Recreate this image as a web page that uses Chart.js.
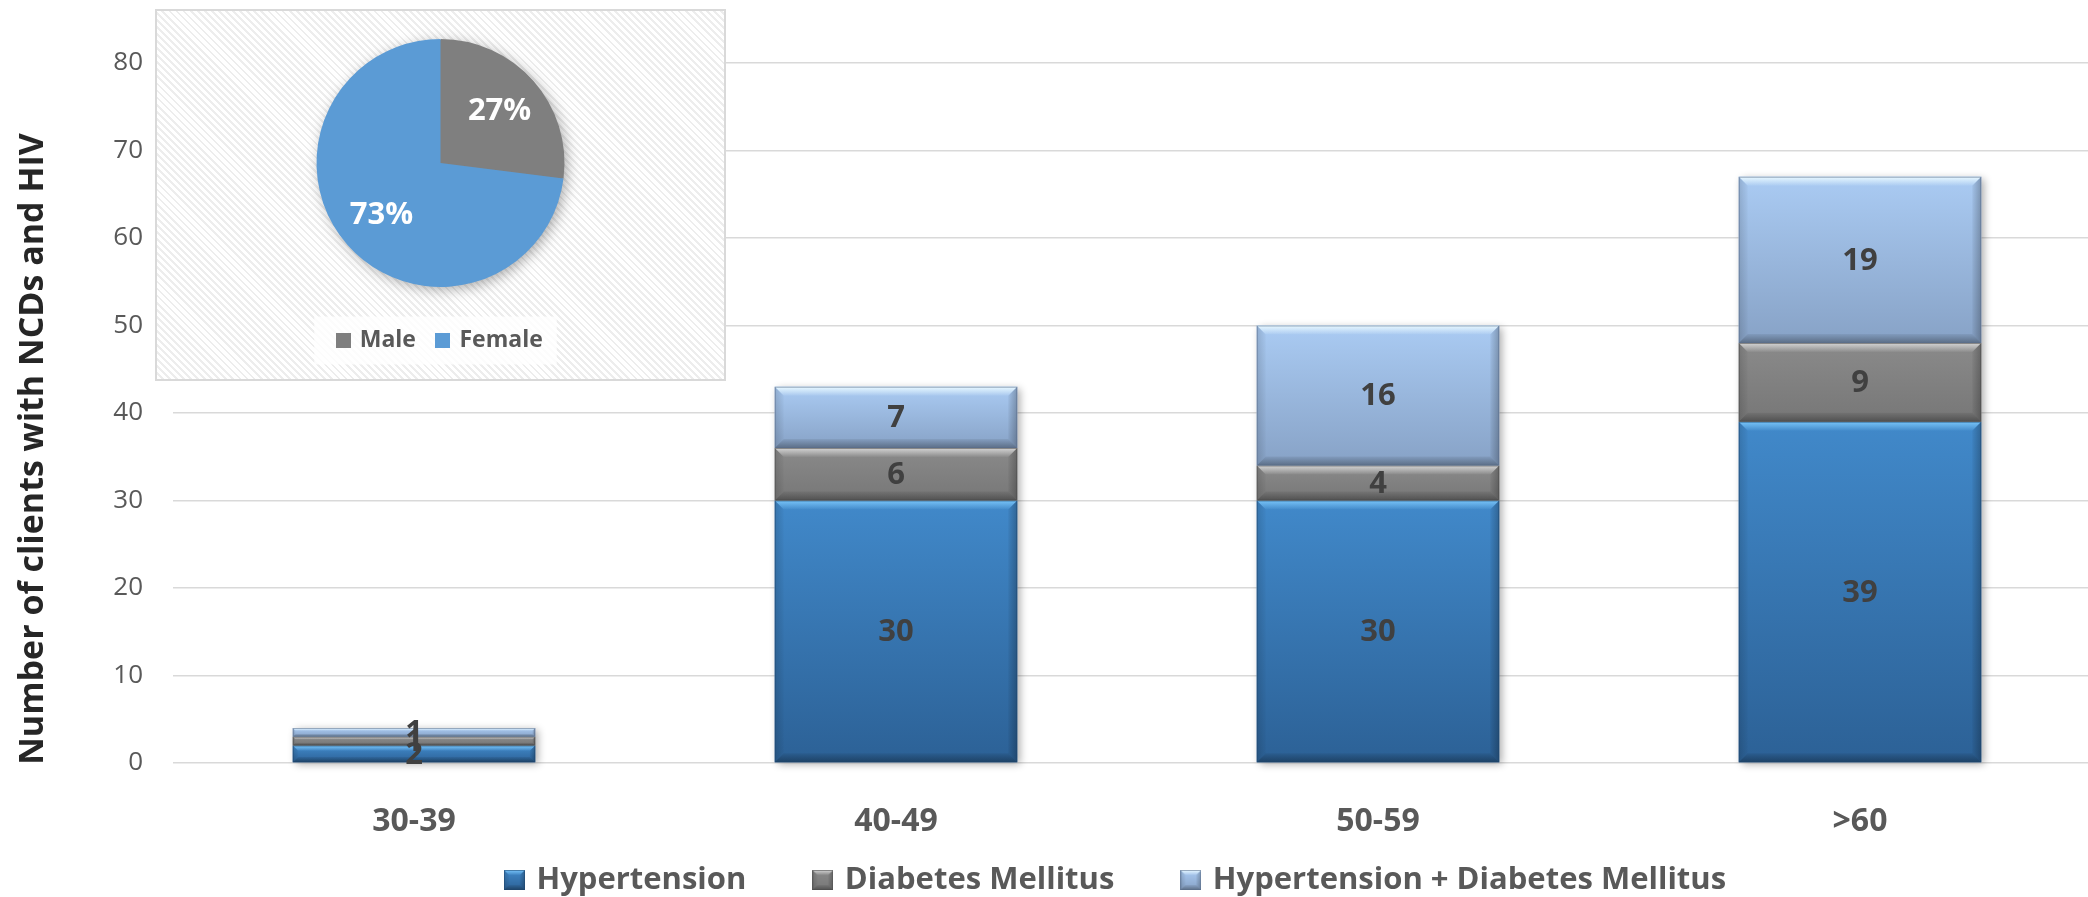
<!DOCTYPE html>
<html>
<head>
<meta charset="utf-8">
<title>Clients with NCDs and HIV by age group</title>
<script src="https://cdn.jsdelivr.net/npm/chart.js@4.4.1/dist/chart.umd.min.js"></script>
<style>
  html, body { margin: 0; padding: 0; background: #ffffff; overflow: hidden; width: 2088px; height: 897px; }
  #main { position: absolute; left: 0; top: 0; }
  #inset {
    position: absolute; left: 155px; top: 9px; width: 571px; height: 372px;
    box-sizing: border-box; border: 2px solid #d9d9d9;
    background: repeating-linear-gradient(45deg, #ffffff 0px, #ffffff 3px, #ededed 3px, #ededed 5px);
  }
  #pie { position: absolute; left: -2px; top: -2px; }
</style>
</head>
<body>
<canvas id="main" width="2110" height="950"></canvas>
<div id="inset"><canvas id="pie" width="571" height="372"></canvas></div>
<script>
// ---- data ----
const ageGroups = ['30-39', '40-49', '50-59', '>60'];
const hypertension = [2, 30, 30, 39];
const diabetesMellitus = [1, 6, 4, 9];
const hypertensionAndDiabetes = [1, 7, 16, 19];
const seriesNames = ['Hypertension', 'Diabetes Mellitus', 'Hypertension + Diabetes Mellitus'];
const yTicks = [0, 10, 20, 30, 40, 50, 60, 70, 80];
const yTitle = 'Number of clients with NCDs and HIV';
const sexLabels = ['Male', 'Female'];
const sexShares = [27, 73];

// ---- styling ----
const FONT = "'Open Sans', 'DejaVu Sans', sans-serif";
Chart.defaults.font.family = FONT;

const seriesStyle = [
  { base: '#3675b2', top: '#4189ca', bottom: '#2c6196', hi: '#78c4f8', edge: '#1f4770' },
  { base: '#808080', top: '#8a8a8a', bottom: '#777777', hi: '#d4d4d4', edge: '#4a4a4a' },
  { base: '#9bb9e0', top: '#aacbf3', bottom: '#87a2c6', hi: '#e8f8ff', edge: '#5a6e8a' }
];
const sexColors = ['#7f7f7f', '#5b9bd5'];

function rgba(hex, a) {
  const n = parseInt(hex.slice(1), 16);
  return `rgba(${(n >> 16) & 255},${(n >> 8) & 255},${n & 255},${a})`;
}

function poly(ctx, pts, fill) {
  ctx.beginPath();
  ctx.moveTo(pts[0][0], pts[0][1]);
  for (let i = 1; i < pts.length; i++) ctx.lineTo(pts[i][0], pts[i][1]);
  ctx.closePath();
  ctx.fillStyle = fill;
  ctx.fill();
}

// Beveled rectangle: body gradient plus lit top, shaded bottom and sides
function drawBevelRect(ctx, x0, y0, x1, y1, st, maxB) {
  const w = x1 - x0, h = y1 - y0;
  if (w <= 0 || h <= 0) return;
  const b = Math.min(maxB, h * 0.32, w * 0.3);
  let g = ctx.createLinearGradient(0, y0, 0, y1);
  g.addColorStop(0, st.top);
  g.addColorStop(1, st.bottom);
  ctx.fillStyle = g;
  ctx.fillRect(x0, y0, w, h);

  g = ctx.createLinearGradient(0, y0, 0, y0 + b);
  g.addColorStop(0, st.hi);
  g.addColorStop(1, rgba(st.hi, 0.05));
  poly(ctx, [[x0, y0], [x1, y0], [x1 - b, y0 + b], [x0 + b, y0 + b]], g);

  g = ctx.createLinearGradient(0, y1 - b, 0, y1);
  g.addColorStop(0, 'rgba(0,0,0,0.06)');
  g.addColorStop(1, 'rgba(0,0,0,0.32)');
  poly(ctx, [[x0, y1], [x1, y1], [x1 - b, y1 - b], [x0 + b, y1 - b]], g);

  g = ctx.createLinearGradient(x0, 0, x0 + b, 0);
  g.addColorStop(0, 'rgba(0,0,0,0.14)');
  g.addColorStop(1, 'rgba(0,0,0,0.02)');
  poly(ctx, [[x0, y0], [x0 + b, y0 + b], [x0 + b, y1 - b], [x0, y1]], g);

  g = ctx.createLinearGradient(x1 - b, 0, x1, 0);
  g.addColorStop(0, 'rgba(0,0,0,0.04)');
  g.addColorStop(1, 'rgba(0,0,0,0.26)');
  poly(ctx, [[x1, y0], [x1 - b, y0 + b], [x1 - b, y1 - b], [x1, y1]], g);

  ctx.strokeStyle = rgba(st.edge, 0.55);
  ctx.lineWidth = 1;
  ctx.strokeRect(x0 + 0.5, y0 + 0.5, w - 1, h - 1);
}

// Small beveled swatches for the bar legend
const legendIcons = seriesStyle.map(st => {
  const c = document.createElement('canvas');
  c.width = 21; c.height = 20;
  drawBevelRect(c.getContext('2d'), 0, 0, 21, 20, st, 5);
  return c;
});

// Flat square swatches for the pie legend
const sexIcons = sexColors.map(col => {
  const c = document.createElement('canvas');
  c.width = 15; c.height = 15;
  const cx = c.getContext('2d');
  cx.fillStyle = col;
  cx.fillRect(0, 0, 15, 15);
  return c;
});

// Bar finish: shadow behind each stack, beveled segments, centred value labels
const bevelBars = {
  id: 'bevelBars',
  afterDatasetsDraw(chart) {
    const ctx = chart.ctx;
    const metas = chart.getSortedVisibleDatasetMetas();
    ctx.save();
    ageGroups.forEach((_, i) => {
      let top = Infinity, bottom = -Infinity, left = 0, right = 0;
      metas.forEach(m => {
        const p = m.data[i].getProps(['x', 'y', 'base', 'width'], true);
        top = Math.min(top, p.y, p.base);
        bottom = Math.max(bottom, p.y, p.base);
        left = p.x - p.width / 2; right = p.x + p.width / 2;
      });
      ctx.save();
      ctx.shadowColor = 'rgba(0,0,0,0.33)';
      ctx.shadowBlur = 8;
      ctx.shadowOffsetX = 3;
      ctx.shadowOffsetY = 2;
      ctx.fillStyle = '#ffffff';
      ctx.fillRect(left, top, right - left, bottom - top);
      ctx.restore();
    });
    metas.forEach(m => {
      const st = seriesStyle[m.index];
      m.data.forEach(el => {
        const p = el.getProps(['x', 'y', 'base', 'width'], true);
        const y0 = Math.min(p.y, p.base), y1 = Math.max(p.y, p.base);
        drawBevelRect(ctx, p.x - p.width / 2, y0, p.x + p.width / 2, y1, st, 9);
      });
    });
    ctx.font = `bold 31px ${FONT}`;
    ctx.fillStyle = '#404040';
    ctx.textAlign = 'center';
    ctx.textBaseline = 'middle';
    metas.forEach(m => {
      const values = chart.data.datasets[m.index].data;
      m.data.forEach((el, i) => {
        const p = el.getProps(['x', 'y', 'base'], true);
        ctx.fillText(String(values[i]), p.x, (p.y + p.base) / 2 + 1);
      });
    });
    ctx.restore();
  }
};

// Vertical axis title, placed beside the plot
const axisTitle = {
  id: 'axisTitle',
  afterDraw(chart) {
    const ctx = chart.ctx;
    ctx.save();
    ctx.translate(33, 449);
    ctx.rotate(-Math.PI / 2);
    ctx.font = `bold 34px ${FONT}`;
    ctx.fillStyle = '#262626';
    ctx.textAlign = 'center';
    ctx.textBaseline = 'middle';
    ctx.fillText(yTitle, 0, 0);
    ctx.restore();
  }
};

// Legend placement under the category labels
const legendPlacement = {
  id: 'legendPlacement',
  afterLayout(chart) {
    const lg = chart.legend;
    const dx = 1117 - (lg.left + lg.right) / 2;
    lg.left += dx; lg.right += dx;
    const dy = 880 - (lg.top + lg.options.labels.padding + 15.5);
    lg.top += dy; lg.bottom += dy;
  }
};

new Chart(document.getElementById('main'), {
  type: 'bar',
  data: {
    labels: ageGroups,
    datasets: [
      { label: seriesNames[0], data: hypertension, backgroundColor: seriesStyle[0].base },
      { label: seriesNames[1], data: diabetesMellitus, backgroundColor: seriesStyle[1].base },
      { label: seriesNames[2], data: hypertensionAndDiabetes, backgroundColor: seriesStyle[2].base }
    ]
  },
  options: {
    responsive: false,
    animation: false,
    layout: { padding: { top: 63, left: 0, right: 9, bottom: 5 } },
    datasets: { bar: { categoryPercentage: 0.503, barPercentage: 1.0, borderWidth: 0 } },
    scales: {
      x: {
        stacked: true,
        grid: { display: false },
        border: { display: false },
        ticks: { color: '#595959', font: { size: 32, weight: 'bold' }, padding: 32 },
        afterFit(s) { s.height = 71; }
      },
      y: {
        stacked: true,
        min: 0, max: 80,
        afterBuildTicks(s) { s.ticks = yTicks.map(v => ({ value: v })); },
        grid: { color: '#d9d9d9', lineWidth: 1.5, drawTicks: false },
        border: { display: false },
        ticks: { color: '#595959', font: { size: 26 }, padding: 30 },
        afterFit(s) { s.width = 173; }
      }
    },
    plugins: {
      legend: {
        position: 'bottom',
        fullSize: false,
        labels: {
          usePointStyle: true,
          pointStyleWidth: 13,
          boxHeight: 20,
          padding: 70,
          color: '#595959',
          font: { size: 31, weight: 'bold' },
          generateLabels(chart) {
            const items = Chart.defaults.plugins.legend.labels.generateLabels(chart);
            items.forEach(it => { it.pointStyle = legendIcons[it.datasetIndex]; });
            return items;
          }
        }
      },
      tooltip: { enabled: false }
    }
  },
  plugins: [bevelBars, axisTitle, legendPlacement]
});

// ---- inset pie: sex distribution ----
const pieShadow = {
  id: 'pieShadow',
  beforeDatasetsDraw(chart) {
    const arc = chart.getDatasetMeta(0).data[0];
    const p = arc.getProps(['x', 'y', 'outerRadius'], true);
    const ctx = chart.ctx;
    ctx.save();
    ctx.shadowColor = 'rgba(0,0,0,0.35)';
    ctx.shadowBlur = 14;
    ctx.shadowOffsetX = 3;
    ctx.shadowOffsetY = 3;
    ctx.fillStyle = '#7f7f7f';
    ctx.beginPath();
    ctx.arc(p.x, p.y, p.outerRadius - 1, 0, Math.PI * 2);
    ctx.fill();
    ctx.restore();
  }
};

const pieLabels = {
  id: 'pieLabels',
  afterDatasetsDraw(chart) {
    const ctx = chart.ctx;
    ctx.save();
    ctx.font = `bold 31px ${FONT}`;
    ctx.fillStyle = '#ffffff';
    ctx.textAlign = 'center';
    ctx.textBaseline = 'middle';
    chart.getDatasetMeta(0).data.forEach((arc, i) => {
      const p = arc.getProps(['x', 'y', 'startAngle', 'endAngle', 'outerRadius'], true);
      const mid = (p.startAngle + p.endAngle) / 2;
      const r = p.outerRadius * 0.635;
      ctx.fillText(sexShares[i] + '%', p.x + Math.cos(mid) * r, p.y + Math.sin(mid) * r);
    });
    ctx.restore();
  }
};

const legendPanel = {
  id: 'legendPanel',
  beforeDraw(chart) {
    const boxes = chart.legend && chart.legend.legendHitBoxes;
    if (!boxes || !boxes.length) return;
    const left = Math.min(...boxes.map(b => b.left)) - 24;
    const right = Math.max(...boxes.map(b => b.left + b.width)) + 14;
    const cy = boxes[0].top + boxes[0].height / 2;
    const ctx = chart.ctx;
    ctx.save();
    ctx.fillStyle = 'rgba(255,255,255,0.8)';
    ctx.fillRect(left, cy - 24, right - left, 48);
    ctx.restore();
  }
};

new Chart(document.getElementById('pie'), {
  type: 'pie',
  data: {
    labels: sexLabels,
    datasets: [{ data: sexShares, backgroundColor: sexColors, borderWidth: 0 }]
  },
  options: {
    responsive: false,
    animation: false,
    radius: 124,
    layout: { padding: { top: 10, bottom: 19 } },
    plugins: {
      legend: {
        position: 'bottom',
        labels: {
          usePointStyle: true,
          pointStyleWidth: 10,
          boxHeight: 15,
          padding: 22,
          color: '#595959',
          font: { size: 23, weight: 'bold' },
          generateLabels(chart) {
            const items = Chart.overrides.pie.plugins.legend.labels.generateLabels(chart);
            items.forEach(it => { it.pointStyle = sexIcons[it.index]; });
            return items;
          }
        }
      },
      tooltip: { enabled: false }
    }
  },
  plugins: [pieShadow, pieLabels, legendPanel]
});
</script>
</body>
</html>
